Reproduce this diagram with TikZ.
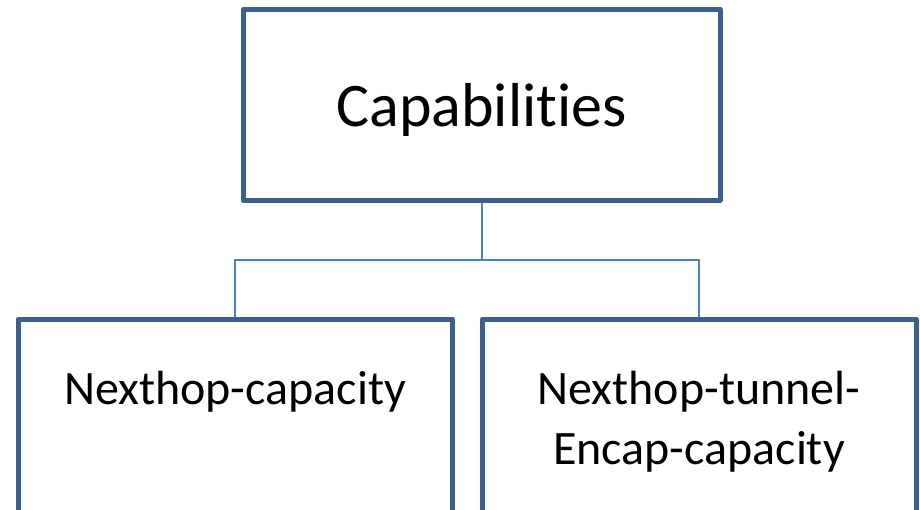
\documentclass[tikz,border=0pt]{standalone}
\usepackage{fontspec}
\setmainfont{Carlito}[RawFeature={-liga,-clig,-dlig,-calt,-rlig}]
\definecolor{boxblue}{HTML}{3C5F8E}
\definecolor{linkblue}{HTML}{4F81BD}
\begin{document}
\begin{tikzpicture}[x=1pt,y=-1pt,
  box/.style={draw=boxblue,line width=5pt,line join=round},
  link/.style={draw=linkblue,line width=2pt},
  lbl/.style={anchor=base,inner sep=0pt,text=black}]
\useasboundingbox (0,0) rectangle (920,509);
\clip (0,0) rectangle (920,509);
\fill[white] (0,0) rectangle (920,509);
% boxes
\draw[box] (243,9.5) rectangle (720,200.5);
\draw[box] (18,319) rectangle (452.5,560);
\draw[box] (482.5,319) rectangle (916,560);
\coordinate (top) at (481.5,203);
\coordinate (ltop) at (235,316.5);
\coordinate (rtop) at (699,316.5);
\coordinate (mid) at (481.5,260);
% connectors
\draw[link] (top) -- (mid);
\draw[link] (ltop) |- (mid) -| (rtop);
% texts
\node[lbl,font=\fontsize{62}{74}\selectfont] (cap) at (481.5,126) {Capabilit\kern0pt ies};
\node[lbl,font=\fontsize{48}{58}\selectfont] (nc) at (235,404) {Nexthop-capacity};
\node[lbl,font=\fontsize{48}{58}\selectfont] (nt1) at (699,404) {Nexthop-tunnel-};
\node[lbl,font=\fontsize{48}{58}\selectfont] (nt2) at (699,464) {Encap-capacity};
\end{tikzpicture}
\end{document}
